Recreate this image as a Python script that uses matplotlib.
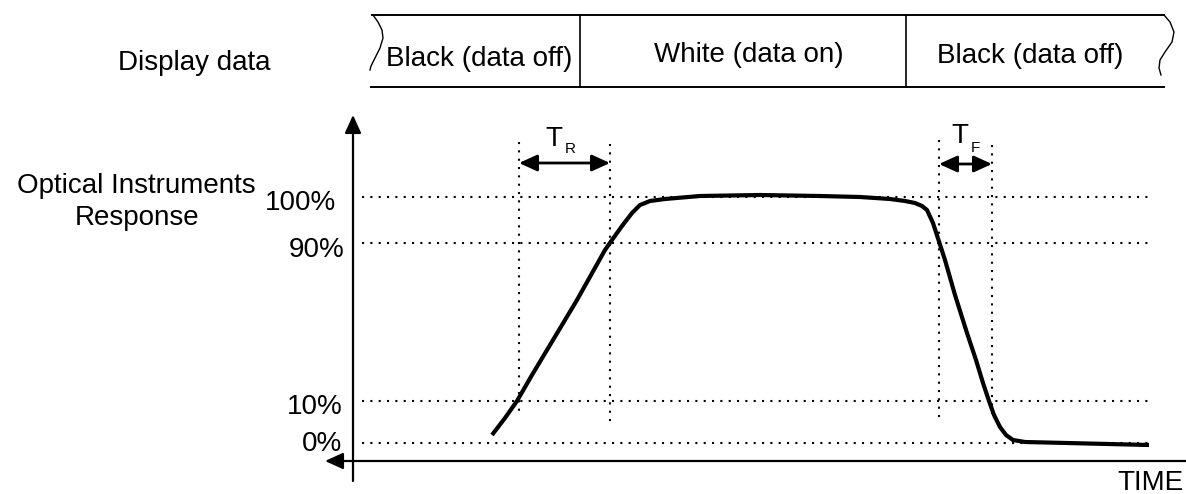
import numpy as np
import matplotlib
matplotlib.use("Agg")
from matplotlib import pyplot as plt

plt.rcParams['font.family'] = ['Liberation Sans', 'DejaVu Sans']

# schematic is laid out in picture units (x right, y down)
levels = ['0%', '10%', '90%', '100%']
level_y = [443, 401, 243, 197]
label_right = [342, 343, 345, 336]
label_base = [451, 414, 257, 210]

# display data strip
seg_names = ['Black (data off)', 'White (data on)', 'Black (data off)']
seg_edges = [372, 580, 906, 1164]
seg_text_x = [479, 749, 1030]
seg_text_base = [66, 62, 63]

# timing markers (left/right dotted lines of T_R and T_F)
tr_x = [519, 610]
tf_x = [939, 992]
marker_top = [142, 144, 140, 145]
marker_bot = [415, 425, 422, 417]

# optical response curve
curve_t = [492, 505, 517, 532, 547, 562, 577, 591, 605, 612, 622, 632, 640,
           650, 665, 700, 760, 820, 860, 890, 905, 915, 922, 927, 933, 945,
           955, 967, 976, 983, 989, 994, 1000, 1006, 1013, 1025, 1067, 1149]
curve_r = [435, 418, 401, 375, 350, 325, 300, 275, 250, 240, 226, 213, 205,
           201, 199, 196, 195, 196, 197, 199, 201, 203, 206, 210, 223, 260,
           295, 333, 360, 383, 401, 415, 427, 435, 440, 442, 443, 445]

fig = plt.figure(figsize=(11.86, 4.94), dpi=100)
ax = fig.add_axes([0, 0, 1, 1])
ax.set_xlim(0, 1186)
ax.set_ylim(494, 0)
ax.axis('off')

dots = dict(color='black', lw=1.5, linestyle=(0, (1, 3)), dash_capstyle='butt')

# horizontal level lines + labels
for lab, y, xr, yb in zip(levels, level_y, label_right, label_base):
    ax.plot([362, 1148], [y, y], **dots)
    ax.text(xr, yb, lab, ha='right', va='baseline', fontsize=20)

# vertical marker lines
for x, y0, y1 in zip(tr_x + tf_x, marker_top, marker_bot):
    ax.plot([x, x], [y0, y1], **dots)

# T_R / T_F arrows
arr = dict(arrowstyle='<|-|>,head_length=1.1,head_width=0.5', color='black',
           lw=2, shrinkA=0, shrinkB=0, mutation_scale=10)
ax.annotate('', xy=(tr_x[0], 163), xytext=(tr_x[1], 163), arrowprops=arr)
ax.annotate('', xy=(tf_x[0], 164), xytext=(tf_x[1], 164), arrowprops=arr)
ax.text(554, 146, 'T', ha='center', va='baseline', fontsize=20)
ax.text(565, 153, 'R', ha='left', va='baseline', fontsize=11)
ax.text(960, 143, 'T', ha='center', va='baseline', fontsize=20)
ax.text(971, 152, 'F', ha='left', va='baseline', fontsize=11)

# axes with arrows
ax_arr = dict(arrowstyle='-|>,head_length=1.1,head_width=0.5', color='black',
              lw=1.6, shrinkA=0, shrinkB=0, mutation_scale=10)
ax.annotate('', xy=(353, 115), xytext=(353, 481), arrowprops=ax_arr)
ax.annotate('', xy=(325, 461), xytext=(1186, 461), arrowprops=ax_arr)

# response curve
ax.plot(curve_t, curve_r, color='black', lw=3, solid_capstyle='butt',
        solid_joinstyle='round')

# display data strip
ax.plot([seg_edges[0], seg_edges[-1]], [15, 15], color='black', lw=1.4)
ax.plot([seg_edges[0] - 1, seg_edges[-1]], [87, 87], color='black', lw=1.4)
for x in seg_edges[1:-1]:
    ax.plot([x, x], [15, 87], color='black', lw=1.2)
for name, x, yb in zip(seg_names, seg_text_x, seg_text_base):
    ax.text(x, yb, name, ha='center', va='baseline', fontsize=20)

# torn edges
left_edge_x = [373, 378, 382, 383, 380, 375, 371, 370]
left_edge_y = [15, 22, 30, 38, 48, 58, 66, 70]
right_edge_x = [1164, 1170, 1174, 1172, 1165, 1160, 1159, 1161]
right_edge_y = [15, 22, 32, 42, 52, 60, 68, 75]
ax.plot(left_edge_x, left_edge_y, color='black', lw=1)
ax.plot(right_edge_x, right_edge_y, color='black', lw=1)

# side labels
ax.text(194, 70, 'Display data', ha='center', va='baseline', fontsize=20)
ax.text(136, 193, 'Optical Instruments', ha='center', va='baseline', fontsize=20)
ax.text(137, 225, 'Response', ha='center', va='baseline', fontsize=20)
ax.text(1183, 490, 'TIME', ha='right', va='baseline', fontsize=20)

fig.savefig('out.png', dpi=100)
